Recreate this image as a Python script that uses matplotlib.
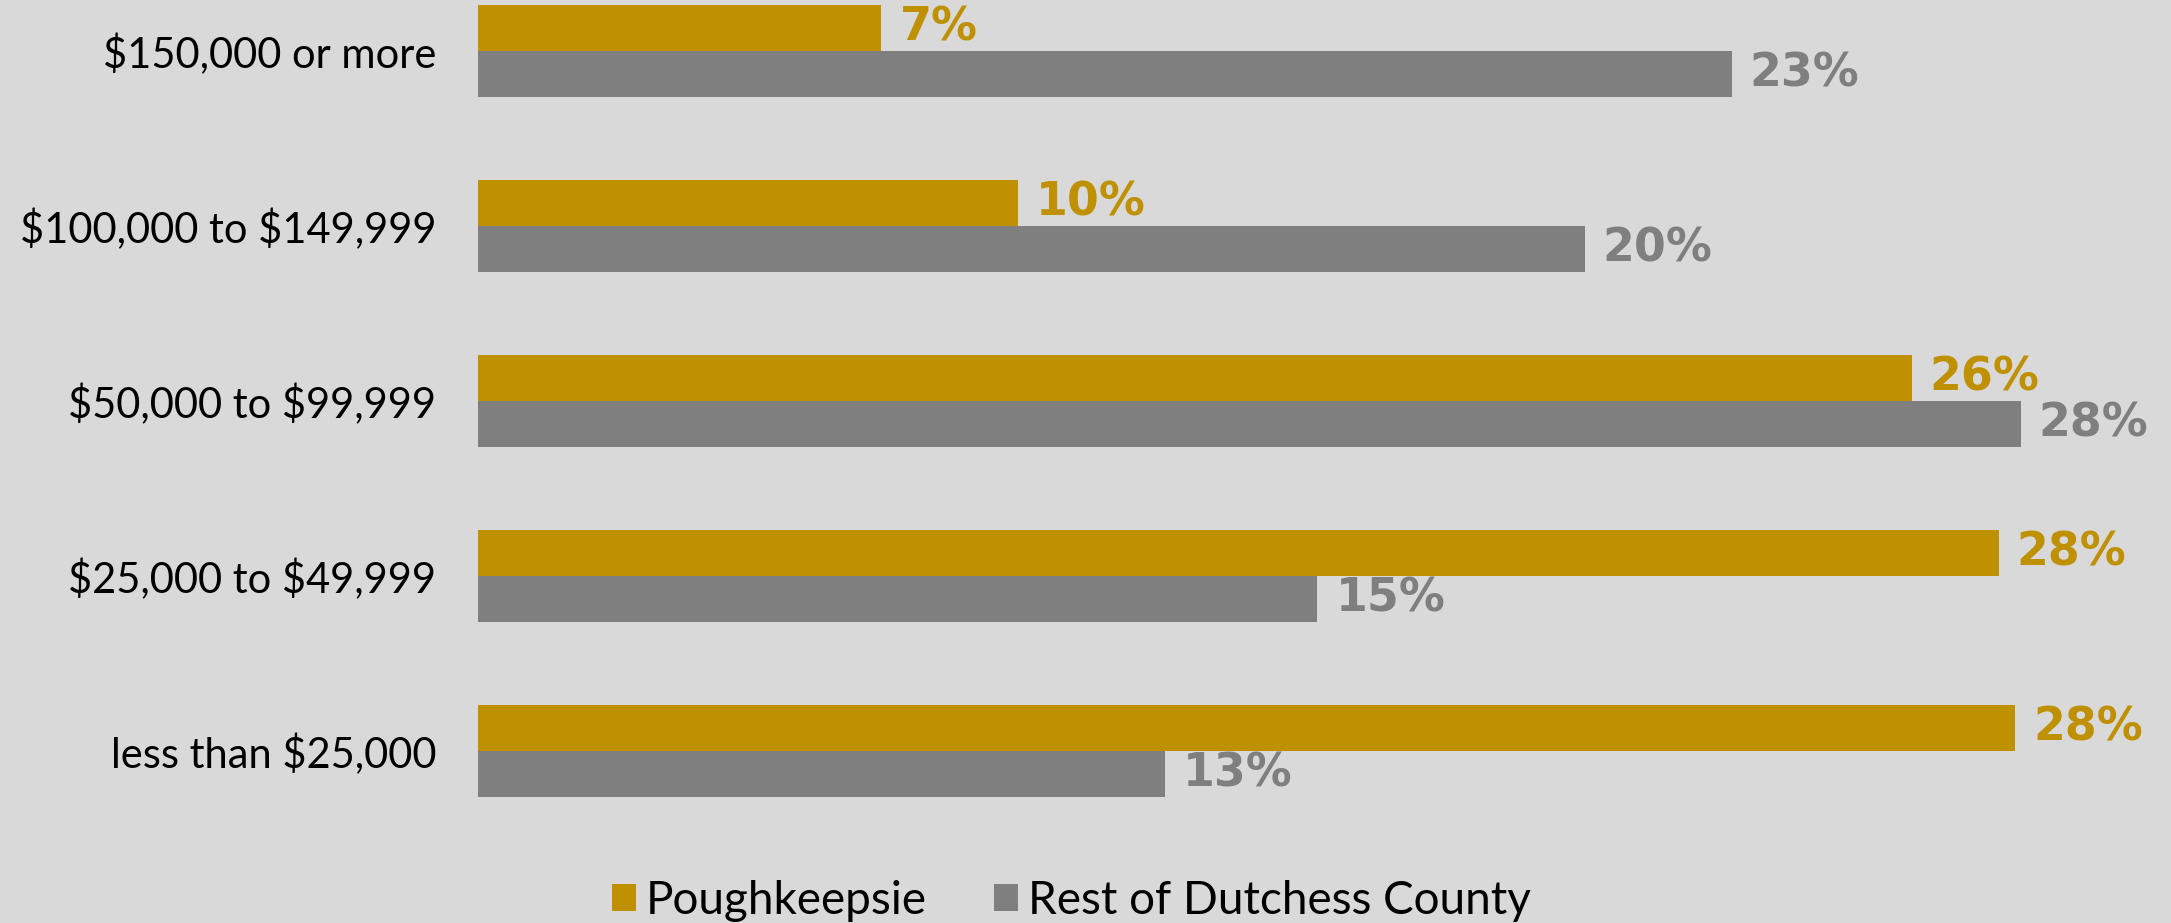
import matplotlib
matplotlib.use("Agg")
import matplotlib.pyplot as plt
import numpy as np

plt.rcParams["text.parse_math"] = False

# income brackets, bottom to top as drawn
categories = ["less than $25,000", "$25,000 to $49,999", "$50,000 to $99,999",
              "$100,000 to $149,999", "$150,000 or more"]
poughkeepsie = [28.2, 27.9, 26.3, 9.9, 7.4]
rest_of_county = [12.6, 15.4, 28.3, 20.3, 23.0]
series_names = ["Poughkeepsie", "Rest of Dutchess County"]

gold = "#BF9000"
grey = "#7F7F7F"
bg = "#D9D9D9"

fig = plt.figure(figsize=(21.71, 9.23), dpi=100)
fig.patch.set_facecolor(bg)
ax = fig.add_axes([478 / 2171, 1 - 830 / 923, 1 - 478 / 2171, 830 / 923])
ax.set_facecolor(bg)

y = np.arange(len(categories))
h = 0.263

b1 = ax.barh(y + h / 2, poughkeepsie, height=h, color=gold, label=series_names[0])
b2 = ax.barh(y - h / 2, rest_of_county, height=h, color=grey, label=series_names[1])

for bars, vals, col in [(b1, poughkeepsie, gold), (b2, rest_of_county, grey)]:
    for bar, v in zip(bars, vals):
        ax.annotate(f"{round(v)}%",
                    xy=(bar.get_width(), bar.get_y() + bar.get_height() / 2),
                    xytext=(13, 0), textcoords="offset points",
                    ha="left", va="center", fontsize=33, fontweight="bold",
                    color=col, family="DejaVu Sans")

ax.set_xlim(0, 31.06)
ax.set_ylim(-0.454, 4.294)
ax.set_yticks(y)
ax.set_yticklabels(categories, fontsize=30, family="Lato", color="black")
ax.tick_params(axis="y", length=0, pad=30)
ax.set_xticks([])
for s in ax.spines.values():
    s.set_visible(False)

leg = fig.legend(handles=[b1, b2], labels=series_names, loc="center",
                 bbox_to_anchor=(0.4935, 0.024), ncol=2, frameon=False,
                 prop={"family": "Lato", "size": 33},
                 handlelength=0.52, handleheight=0.52, handletextpad=0.22,
                 columnspacing=1.45)

fig.savefig("out.png", dpi=100, facecolor=bg)
